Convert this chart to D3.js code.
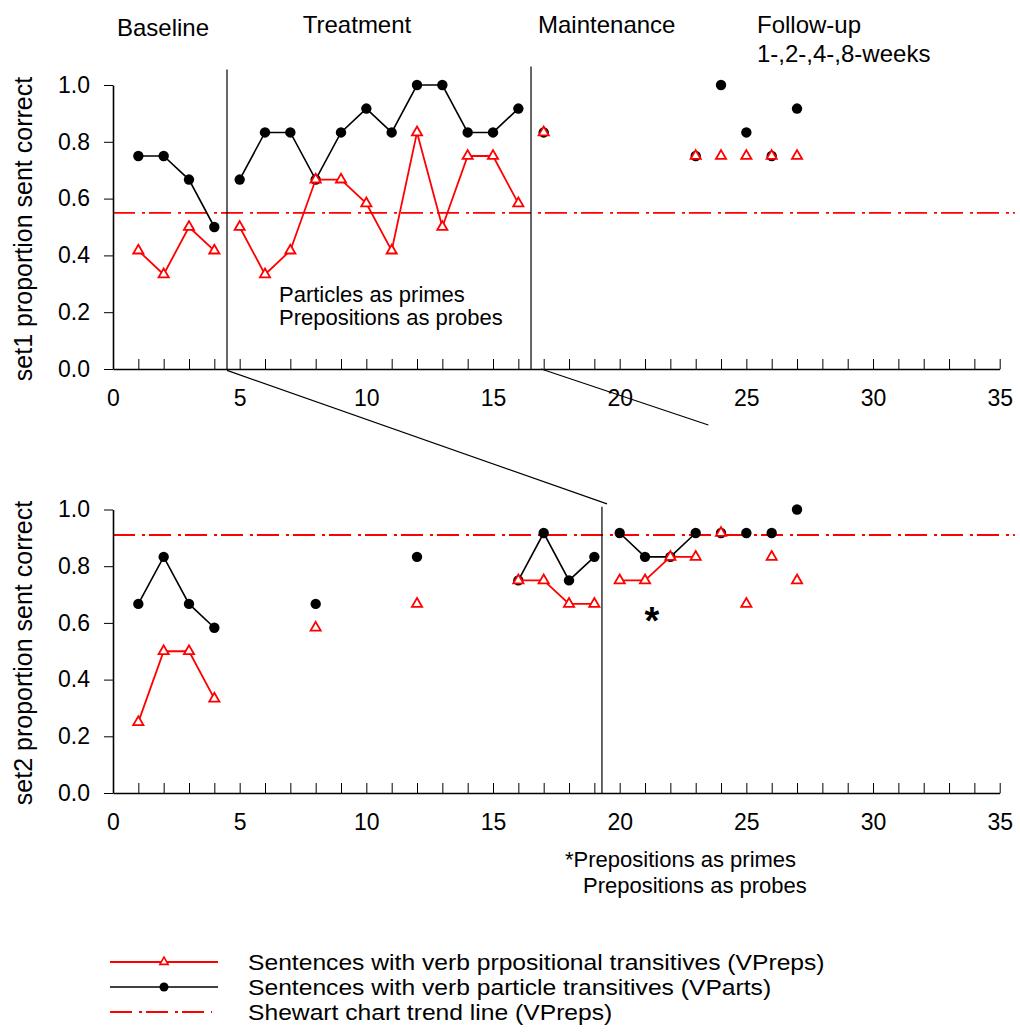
<html>
<script src='https://d3js.org/d3.v7.min.js'></script>
<style>
body { margin:0; background:#fff; }
text { font-family: "Liberation Sans", Arial, sans-serif; }
</style>
<body>
<svg width=1020 height=1036></svg>
<script>
// set1: particles as primes, prepositions as probes
const set1Session = [1,2,3,4, 5,6,7,8,9,10,11,12,13,14,15,16, 17, 23,24,25,26,27];
const set1Phase   = [0,0,0,0, 1,1,1,1,1,1,1,1,1,1,1,1, 2, 3,4,5,6,7];
const set1VParts  = [0.75,0.75,0.667,0.5, 0.667,0.833,0.833,0.667,0.833,0.917,0.833,1,1,0.833,0.833,0.917, 0.833, 0.75,1,0.833,0.75,0.917];
const set1VPreps  = [0.417,0.333,0.5,0.417, 0.5,0.333,0.417,0.667,0.667,0.583,0.417,0.833,0.5,0.75,0.75,0.583, 0.833, 0.75,0.75,0.75,0.75,0.75];
const set1Shewhart = 0.55;

// set2: prepositions as primes and probes
const set2Session = [1,2,3,4, 8, 12, 16,17,18,19, 20,21,22,23, 24,25,26,27];
const set2Phase   = [0,0,0,0, 1, 2, 3,3,3,3, 4,4,4,4, 5,6,7,8];
const set2VParts  = [0.667,0.833,0.667,0.583, 0.667, 0.833, 0.75,0.917,0.75,0.833, 0.917,0.833,0.833,0.917, 0.917,0.917,0.917,1];
const set2VPreps  = [0.25,0.5,0.5,0.333, 0.583, 0.667, 0.75,0.75,0.667,0.667, 0.75,0.75,0.833,0.833, 0.917,0.667,0.833,0.75];
const set2Shewhart = 0.91;

const xTicks = d3.range(0, 36);
const yTicks = [0, 0.2, 0.4, 0.6, 0.8, 1.0];

// phase change lines [session, top value]
const set1PhaseLines = [[4.5, 1.055], [16.5, 1.065]];
const set2PhaseLines = [[19.3, 1.01]];

var red = "#ff0000";
var font = '"Liberation Sans", Arial, sans-serif';
var svg = d3.select("svg");

var x = d3.scaleLinear().domain([0, 35]).range([113, 999.7]);
var y1 = d3.scaleLinear().domain([0, 1]).range([369, 85]);
var y2 = d3.scaleLinear().domain([0, 1]).range([793, 509.5]);

function drawPanel(y, sessions, phases, parts, preps, shewhart, phaseLines, label, labelY) {
	var g = svg.append("g");
	// shewhart trend line
	g.append("line")
		.attr("x1", x(0)).attr("x2", x(35.6))
		.attr("y1", y(shewhart)).attr("y2", y(shewhart))
		.attr("stroke", red).attr("stroke-width", 1.8)
		.attr("stroke-dasharray", "22,7,3,4");
	// phase lines
	phaseLines.forEach(function(p) {
		g.append("line")
			.attr("x1", x(p[0])).attr("x2", x(p[0]))
			.attr("y1", y(0)).attr("y2", y(p[1]))
			.attr("stroke", "black").attr("stroke-width", 1.2);
	});
	// axes
	var xa = g.append("g")
		.attr("transform", "translate(0," + y(0) + ")")
		.call(d3.axisBottom(x).tickValues(xTicks).tickSizeInner(-10).tickSizeOuter(0)
			.tickPadding(21).tickFormat(d => d % 5 === 0 ? d : ""));
	var ya = g.append("g")
		.attr("transform", "translate(" + x(0) + ",0)")
		.call(d3.axisLeft(y).tickValues(yTicks).tickSize(9).tickSizeOuter(0)
			.tickPadding(14).tickFormat(d3.format(".1f")));
	[xa, ya].forEach(function(a) {
		a.attr("font-family", font).attr("font-size", 23);
		a.select(".domain").attr("stroke-width", 1.6);
		a.selectAll(".tick text").attr("fill", "black");
	});
	g.append("text")
		.attr("transform", "translate(32," + labelY + ") rotate(-90)")
		.attr("text-anchor", "middle")
		.style("font-size", "25px")
		.text(label);

	var rows = sessions.map((s, i) => ({s: s, phase: phases[i], parts: parts[i], preps: preps[i]}));
	var groups = d3.groups(rows, d => d.phase).map(d => d[1]);
	// VParts (black)
	var lineParts = d3.line().x(d => x(d.s)).y(d => y(d.parts));
	g.selectAll(".lp").data(groups.filter(d => d.length > 1)).enter()
		.append("path")
		.attr("d", lineParts)
		.attr("fill", "none").attr("stroke", "black").attr("stroke-width", 1.6);
	g.selectAll(".dot").data(rows).enter()
		.append("circle")
		.attr("cx", d => x(d.s)).attr("cy", d => y(d.parts))
		.attr("r", 5.2).attr("fill", "black");
	// VPreps (red)
	var linePreps = d3.line().x(d => x(d.s)).y(d => y(d.preps));
	g.selectAll(".lr").data(groups.filter(d => d.length > 1)).enter()
		.append("path")
		.attr("d", linePreps)
		.attr("fill", "none").attr("stroke", red).attr("stroke-width", 1.8);
	g.selectAll(".tri").data(rows).enter()
		.append("path")
		.attr("d", d3.symbol().type(d3.symbolTriangle).size(45))
		.attr("transform", d => "translate(" + x(d.s) + "," + y(d.preps) + ")")
		.attr("fill", "white").attr("stroke", red).attr("stroke-width", 1.8);
}

// connectors between the panels
var conn = svg.append("g").attr("stroke", "black").attr("stroke-width", 1.2);
conn.append("line")
	.attr("x1", x(4.5)).attr("y1", y1(-0.005))
	.attr("x2", x(19.5)).attr("y2", y2(1.02));
conn.append("line")
	.attr("x1", x(16.9)).attr("y1", y1(0))
	.attr("x2", x(23.5)).attr("y2", y1(-0.197));

drawPanel(y1, set1Session, set1Phase, set1VParts, set1VPreps, set1Shewhart, set1PhaseLines,
	"set1 proportion sent correct", 229);
drawPanel(y2, set2Session, set2Phase, set2VParts, set2VPreps, set2Shewhart, set2PhaseLines,
	"set2 proportion sent correct", 653);

// phase headers and notes
function note(tx, ty, size, str, anchor) {
	svg.append("text").attr("x", tx).attr("y", ty)
		.attr("text-anchor", anchor || "start")
		.style("font-size", size + "px").text(str);
}
note(117, 36, 24, "Baseline");
note(357, 33, 24, "Treatment", "middle");
note(538, 33, 24, "Maintenance");
note(757, 33, 24, "Follow-up");
note(757, 62, 24, "1-,2-,4-,8-weeks");
note(279, 302, 22, "Particles as primes");
note(279, 325, 22, "Prepositions as probes");
note(565, 867, 22, "*Prepositions as primes");
note(583, 893, 22, "Prepositions as probes");
svg.append("text").attr("x", 652).attr("y", 634)
	.attr("text-anchor", "middle")
	.style("font-size", "38px").style("font-weight", "bold").text("*");

// legend
var legend = svg.append("g");
var ly = [962, 987, 1012];
legend.append("line").attr("x1", 110).attr("x2", 218).attr("y1", ly[0]).attr("y2", ly[0])
	.attr("stroke", red).attr("stroke-width", 1.8);
legend.append("path").attr("d", d3.symbol().type(d3.symbolTriangle).size(30))
	.attr("transform", "translate(164," + ly[0] + ")")
	.attr("fill", "white").attr("stroke", red).attr("stroke-width", 1.6);
legend.append("line").attr("x1", 110).attr("x2", 218).attr("y1", ly[1]).attr("y2", ly[1])
	.attr("stroke", "black").attr("stroke-width", 1.6);
legend.append("circle").attr("cx", 164).attr("cy", ly[1]).attr("r", 4.5).attr("fill", "black");
legend.append("line").attr("x1", 110).attr("x2", 212).attr("y1", ly[2]).attr("y2", ly[2])
	.attr("stroke", red).attr("stroke-width", 1.8).attr("stroke-dasharray", "22,7,3,4");
var labels = ["Sentences with verb prpositional transitives (VPreps)",
	"Sentences with verb particle transitives (VParts)",
	"Shewart chart trend line (VPreps)"];
labels.forEach(function(t, i) {
	var tx = legend.append("text").attr("x", 248).attr("y", ly[i]).attr("dy", "0.36em")
		.style("font-size", "22px").text(t);
	var w = tx.node().getComputedTextLength();
	tx.attr("textLength", w * 1.12).attr("lengthAdjust", "spacingAndGlyphs");
});
</script>
</body>
</html>
